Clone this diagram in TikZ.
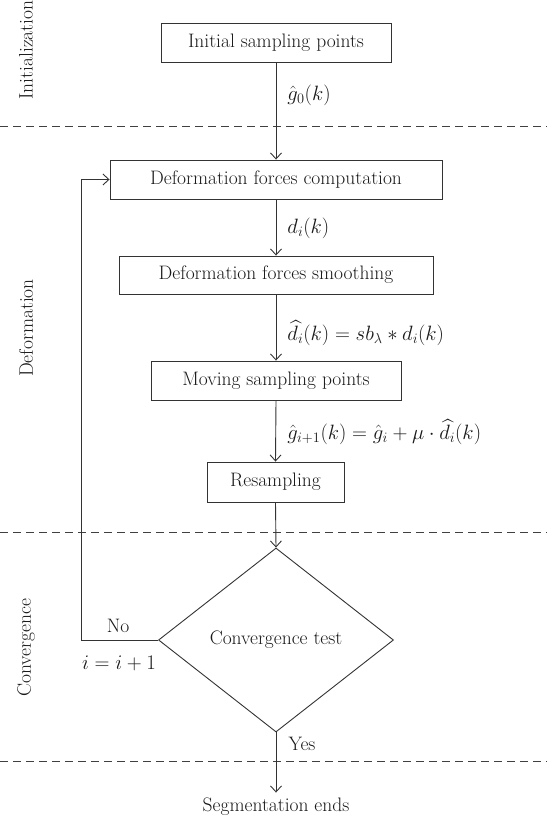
\documentclass[tikz,border=0pt]{standalone}
\usepackage{amsmath}
\usetikzlibrary{arrows.meta,shapes.geometric}
\begin{document}
\begin{tikzpicture}[x=1pt,y=-1pt,
  line width=0.9pt,
  every node/.style={font=\fontsize{19.5}{23}\selectfont, text=black!90},
  box/.style={draw=black!80, rectangle, inner sep=0pt, minimum height=39pt},
  conn/.style={draw=black!80, -{Straight Barb[length=6pt,width=11pt,line width=0.9pt]}},
  sep/.style={draw=black!75, dash pattern=on 8pt off 5pt},
  lbl/.style={anchor=west, inner sep=0pt},
  side/.style={rotate=90, inner sep=0pt}]
\useasboundingbox (0,0) rectangle (547,826);

% phase separators
\draw[sep] (0,126) -- (547,126);
\draw[sep] (0,532) -- (547,532);
\draw[sep] (0,761) -- (547,761);

% side labels
\node[side] (sInit) at (26,50) {Initialization};
\node[side] (sDef) at (26,328) {Deformation};
\node[side] (sConv) at (26,648) {Convergence};

% boxes
\node[box, minimum width=230pt] (b1) at (276,42.5) {Initial sampling points};
\node[box, minimum width=332pt] (b2) at (276,179.5) {Deformation forces computation};
\node[box, minimum width=314pt, minimum height=38pt] (b3) at (276,275) {Deformation forces smoothing};
\node[box, minimum width=250pt] (b4) at (276,380.5) {Moving sampling points};
\node[box, minimum width=137pt, minimum height=40pt] (b5) at (275.5,482) {Resampling};
\node[draw=black!80, diamond, inner sep=0pt, aspect=1.277, minimum width=235pt, minimum height=184pt] (dia) at (276,640) {Convergence test};
\node[inner sep=0pt, minimum height=28pt] (end) at (276,807) {Segmentation ends};

% connectors
\draw[conn] (b1.south) -- (b2.north);
\draw[conn] (b2.south) -- (b3.north);
\draw[conn] (b3.south) -- (b4.north);
\draw[conn] (b4.south) -- (b5.north);
\draw[conn] (b5.south) -- (dia.north);
\draw[conn] (dia.south) -- (end.north);
\draw[conn] (dia.west) -- ++(-77,0) |- (b2.west);

% connector labels
\node[lbl] (l1) at (287,95) {$\hat{g}_0(k)$};
\node[lbl] (l2) at (287,228) {$d_i(k)$};
\node[lbl] (l3) at (287,333) {$\widehat{d}_i(k) = sb_\lambda \ast d_i(k)$};
\node[lbl] (l4) at (287,432) {$\hat{g}_{i+1}(k) = \hat{g}_i + \mu \cdot \widehat{d}_i(k)$};
\node (no) at (118,626) {No};
\node (inc) at (119,663) {$i = i+1$};
\node (yes) at (302,744) {Yes};
\end{tikzpicture}
\end{document}
